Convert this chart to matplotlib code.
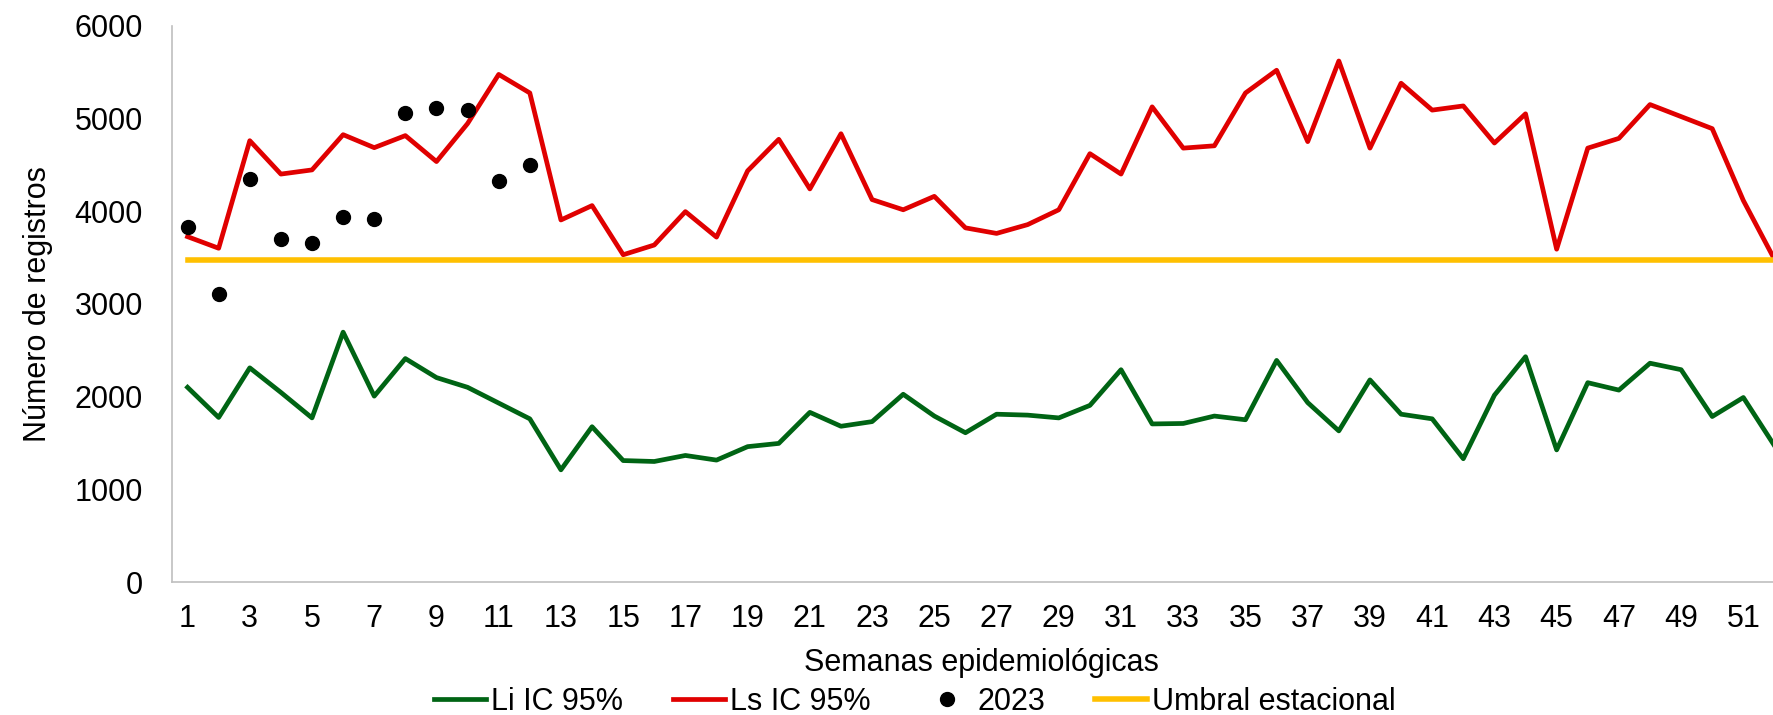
import numpy as np
import matplotlib.pyplot as plt

plt.rcParams['font.family'] = ['Liberation Sans', 'DejaVu Sans']

# Semanas epidemiológicas
weeks = np.arange(1, 53)

# Límite inferior IC 95%
li_ic = [2100, 1775, 2310, 2045, 1770, 2695, 2005, 2410, 2205, 2100,
         1930, 1760, 1210, 1675, 1310, 1300, 1365, 1315, 1460, 1495,
         1830, 1680, 1730, 2025, 1790, 1610, 1810, 1800, 1770, 1905,
         2290, 1705, 1710, 1790, 1750, 2390, 1935, 1630, 2180, 1810,
         1760, 1330, 2015, 2430, 1425, 2150, 2070, 2360, 2290, 1785,
         1990, 1470]

# Límite superior IC 95%
ls_ic = [3725, 3600, 4760, 4400, 4445, 4825, 4685, 4815, 4535, 4945,
         5475, 5275, 3905, 4060, 3530, 3635, 3995, 3720, 4435, 4775,
         4240, 4835, 4125, 4015, 4160, 3820, 3760, 3855, 4015, 4620,
         4400, 5125, 4680, 4705, 5275, 5520, 4750, 5620, 4680, 5380,
         5090, 5135, 4735, 5050, 3590, 4680, 4785, 5150, 5020, 4890,
         4115, 3480]

# Casos 2023
weeks_2023 = np.arange(1, 13)
cases_2023 = [3825, 3110, 4345, 3705, 3655, 3935, 3915, 5055, 5110, 5095,
              4325, 4495]

# Umbral estacional
umbral = 3475

fig = plt.figure(figsize=(17.73, 7.15), dpi=100)
# axes run a bit past the right edge, like the cropped original
ax = fig.add_axes([0.0970, 0.186, 0.9126, 0.778])

ax.plot(weeks, li_ic, color='#006414', linewidth=3.4, label='Li IC 95%')
ax.plot(weeks, ls_ic, color='#E00000', linewidth=3.4, label='Ls IC 95%')
ax.plot(weeks_2023, cases_2023, 'o', color='black', markersize=10,
        linestyle='none', label='2023')
ax.plot(weeks, [umbral] * len(weeks), color='#FFC000', linewidth=4,
        label='Umbral estacional')

ax.set_xlim(0.5, 52.5)
ax.set_ylim(0, 6000)
ax.set_xticks(np.arange(1, 53, 2))
ax.set_yticks(np.arange(0, 6001, 1000))
ax.tick_params(axis='both', length=0, labelsize=22)
ax.tick_params(axis='x', pad=16)
ax.tick_params(axis='y', pad=21)

for spine in ['top', 'right']:
    ax.spines[spine].set_visible(False)
for spine in ['left', 'bottom']:
    ax.spines[spine].set_color('#BFBFBF')
    ax.spines[spine].set_linewidth(1.2)

ax.set_xlabel('Semanas epidemiológicas', fontsize=22, va='center')
ax.xaxis.set_label_coords(0.5, -0.145)
ax.set_ylabel('Número de registros', fontsize=22, va='center')
ax.yaxis.set_label_coords(-0.083, 0.5)

fig.legend(loc='center', bbox_to_anchor=(0.516, 0.018), ncol=4, frameon=False,
           fontsize=22, handlelength=1.7, handletextpad=0.15,
           columnspacing=1.65, borderaxespad=0)

fig.savefig('out.png', dpi=100)
